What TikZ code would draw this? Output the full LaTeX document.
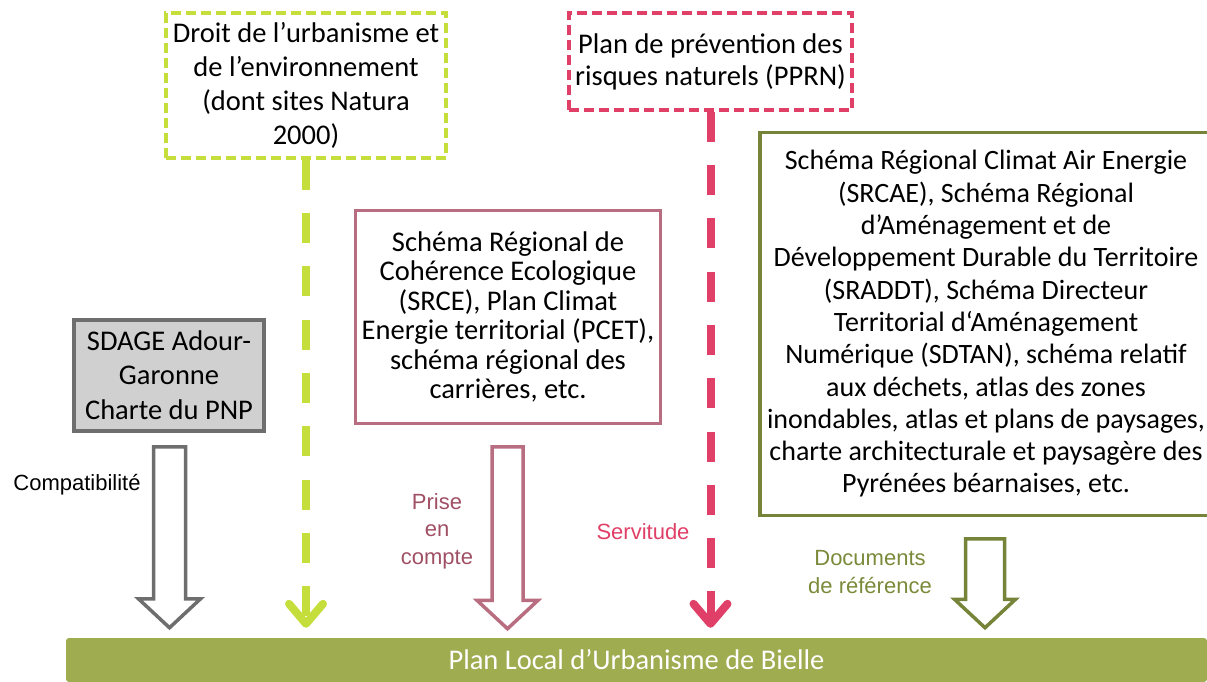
\documentclass[tikz,border=0pt]{standalone}
\usepackage{fontspec}
\setmainfont{Carlito}
\newfontfamily\labelfont{Liberation Sans}
\usetikzlibrary{shapes.arrows,arrows.meta}

\definecolor{limegreen}{RGB}{197,222,60}
\definecolor{riskpink}{RGB}{224,64,104}
\definecolor{rosebox}{RGB}{184,110,128}
\definecolor{roselabel}{RGB}{160,80,100}
\definecolor{oliveline}{RGB}{118,132,58}
\definecolor{olivelabel}{RGB}{122,138,58}
\definecolor{olivebar}{RGB}{159,172,80}
\definecolor{greyfill}{RGB}{208,208,208}
\definecolor{greyline}{RGB}{110,110,110}

\begin{document}
\begin{tikzpicture}[x=1pt,y=-1pt,
  txt/.style={align=center,inner sep=0pt,font=\fontsize{28.5}{#1}\selectfont},
  lbl/.style={align=center,inner sep=0pt,font=\labelfont\fontsize{22}{27.5}\selectfont},
  hollow/.style={single arrow,draw=#1,line width=3.5pt,fill=white,rotate=-90,
    anchor=tail,inner xsep=0pt,single arrow tip angle=94},
  dasharrow/.style={draw=#1,line width=8pt,dash pattern=on 30pt off 23.3pt,
    shorten >=10pt,-{Straight Barb[length=20pt,width=34pt,round]}}]
\useasboundingbox (0,0) rectangle (1207,682);

% boxes
\node[txt=34,draw=limegreen,line width=3.5pt,dash pattern=on 10pt off 5pt,
  minimum width=280pt,minimum height=145pt] at (306,85.5) (droit)
  {Droit de l’urbanisme et\\de l’environnement\\(dont sites Natura\\2000)};
\node[txt=32,draw=riskpink,line width=3.5pt,dash pattern=on 10pt off 5pt,
  minimum width=283pt,minimum height=97pt] at (710.5,61.5) (pprn)
  {Plan de prévention des\\risques naturels (PPRN)};
\node[txt=29.5,draw=rosebox,line width=3.5pt,
  minimum width=305pt,minimum height=213pt] at (508,317) (srce)
  {Schéma Régional de\\Cohérence Ecologique\\(SRCE), Plan Climat\\Energie territorial (PCET),\\schéma régional des\\carrières, etc.};
\node[txt=32.3,font=\fontsize{28}{32.3}\selectfont,draw=oliveline,line width=3.5pt,
  minimum width=452pt,minimum height=383pt] at (986,324) (srcae)
  {Schéma Régional Climat Air Energie\\(SRCAE), Schéma Régional\\d’Aménagement et de\\Développement Durable du Territoire\\(SRADDT), Schéma Directeur\\Territorial d‘Aménagement\\Numérique (SDTAN), schéma relatif\\aux déchets, atlas des zones\\inondables, atlas et plans de paysages,\\charte architecturale et paysagère des\\Pyrénées béarnaises, etc.};
\node[txt=34.5,draw=greyline,fill=greyfill,line width=4pt,
  minimum width=190pt,minimum height=111pt] at (169,375) (sdage)
  {SDAGE Adour-\\Garonne\\Charte du PNP};
\node[txt=34,fill=olivebar,text=white,rounded corners=3pt,
  minimum width=1141pt,minimum height=44pt] at (636.5,660) (plu)
  {Plan Local d’Urbanisme de Bielle};

% block arrows
\node[hollow=greyline,minimum height=181pt,inner ysep=14.25pt,single arrow head extend=15pt] at (169.5,445) (compat) {};
\node[hollow=rosebox,minimum height=182pt,inner ysep=13.75pt,single arrow head extend=15pt] at (507.5,445) (prise) {};
\node[hollow=oliveline,minimum height=89pt,inner ysep=17.75pt,single arrow head extend=11pt] at (985,537) (docs) {};

% dashed arrows
\draw[dasharrow=limegreen] (droit.south) -- (droit.south |- plu.north);
\draw[dasharrow=riskpink] (pprn.south) -- (pprn.south |- plu.north);

% labels
\node[lbl] at (77,485) (compatlbl) {Compatibilité};
\node[lbl,text=roselabel] at (437,531) (priselbl) {Prise\\en\\compte};
\node[lbl,text=riskpink] at (643,532) (servlbl) {Servitude};
\node[lbl,text=olivelabel] at (870,572) (docslbl) {Documents\\de référence};
\end{tikzpicture}
\end{document}
